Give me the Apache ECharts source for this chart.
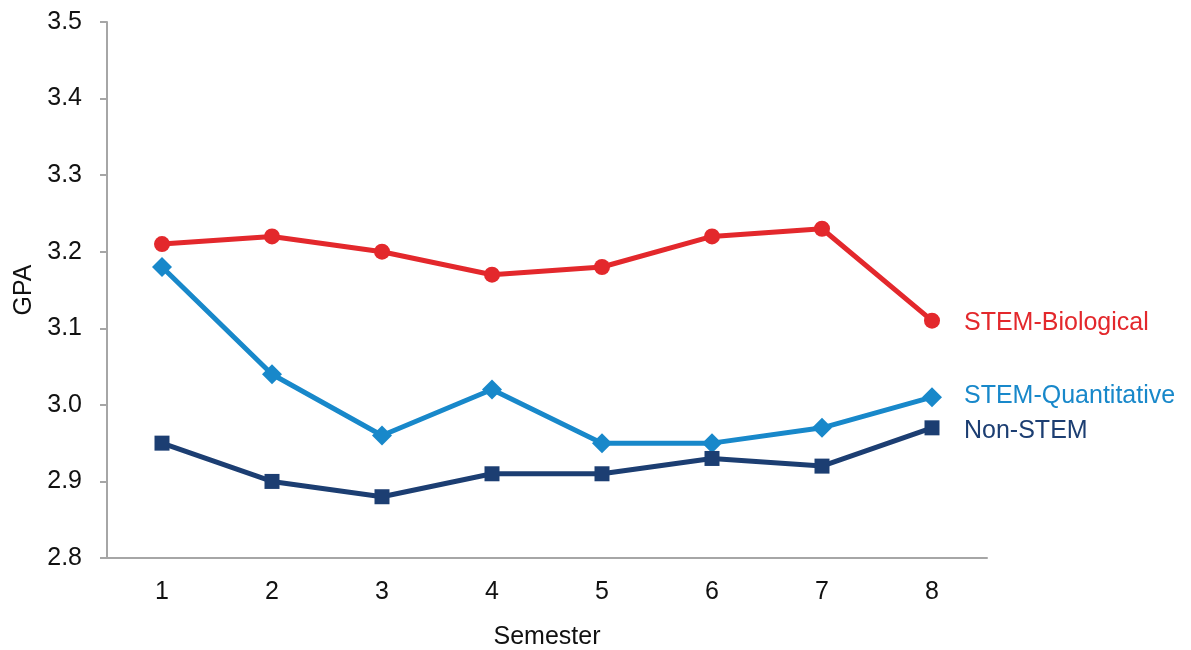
<!DOCTYPE html>
<html>
<head>
<meta charset="utf-8">
<script src="https://cdn.jsdelivr.net/npm/echarts@6/dist/echarts.min.js"></script>
<style>
  html, body { margin: 0; padding: 0; background: #fff; }
  #chart { width: 1191px; height: 650px; }
</style>
</head>
<body>
<div id="chart"></div>
<script>
// Mean GPA by semester for three groups of majors
const semesters = ['1', '2', '3', '4', '5', '6', '7', '8'];
const stemBiological = [3.21, 3.22, 3.20, 3.17, 3.18, 3.22, 3.23, 3.11];
const stemQuantitative = [3.18, 3.04, 2.96, 3.02, 2.95, 2.95, 2.97, 3.01];
const nonStem = [2.95, 2.90, 2.88, 2.91, 2.91, 2.93, 2.92, 2.97];

const FONT = '"Liberation Sans", Arial, sans-serif';
const AXIS_GREY = '#a6a6a6';
const TEXT = '#111111';

function makeSeries(name, data, color, symbol, size, labelOffsetY) {
  return {
    name: name,
    type: 'line',
    data: data,
    symbol: symbol,
    symbolSize: size,
    lineStyle: { color: color, width: 5 },
    itemStyle: { color: color },
    endLabel: {
      show: true,
      formatter: name,
      color: color,
      fontFamily: FONT,
      fontSize: 25,
      distance: 32,
      offset: [0, labelOffsetY]
    },
    animation: false
  };
}

const chart = echarts.init(document.getElementById('chart'));
chart.setOption({
  backgroundColor: '#ffffff',
  grid: { left: 107, right: 204, top: 22, bottom: 92, containLabel: false, outerBoundsMode: 'none' },
  xAxis: {
    type: 'category',
    data: semesters,
    boundaryGap: true,
    name: 'Semester',
    nameLocation: 'middle',
    nameGap: 67,
    nameTextStyle: { color: TEXT, fontFamily: FONT, fontSize: 25 },
    axisLine: { lineStyle: { color: AXIS_GREY, width: 2 } },
    axisTick: { show: false },
    axisLabel: { color: TEXT, fontFamily: FONT, fontSize: 25, margin: 22 },
    splitLine: { show: false }
  },
  yAxis: {
    type: 'value',
    min: 2.8,
    max: 3.5,
    interval: 0.1,
    name: 'GPA',
    nameLocation: 'middle',
    nameGap: 67,
    nameRotate: 90,
    nameTextStyle: { color: TEXT, fontFamily: FONT, fontSize: 25 },
    axisLine: { show: true, lineStyle: { color: AXIS_GREY, width: 2 } },
    axisTick: { show: true, length: 7, lineStyle: { color: AXIS_GREY, width: 2 } },
    axisLabel: {
      color: TEXT, fontFamily: FONT, fontSize: 25, margin: 25,
      formatter: v => v.toFixed(1)
    },
    splitLine: { show: false }
  },
  series: [
    makeSeries('STEM-Biological', stemBiological, '#e3282c', 'circle', 16, 2),
    makeSeries('STEM-Quantitative', stemQuantitative, '#1888ca', 'diamond', 20, -1),
    makeSeries('Non-STEM', nonStem, '#1c3e72', 'rect', 15, 3)
  ]
});
</script>
</body>
</html>
